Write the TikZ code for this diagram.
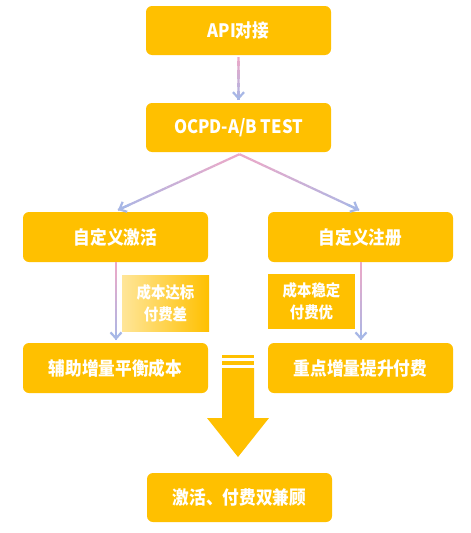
\documentclass[tikz,border=0pt]{standalone}
\usepackage{fontspec}
\setmainfont{Noto Sans CJK SC}
\newfontfamily\cjkn[FakeStretch=0.9]{Noto Sans CJK SC}
\usetikzlibrary{arrows.meta,calc}
\definecolor{ylw}{HTML}{FFC000}
\definecolor{cpink}{HTML}{EBA9C8}
\definecolor{cblue}{HTML}{A7B7E6}
\tikzset{
  box/.style={fill=ylw, rounded corners=6pt, minimum width=185pt, minimum height=50pt,
    text=white, font=\cjkn\bfseries\fontsize{18.5}{20}\selectfont, inner sep=0pt},
  lab/.style={fill=ylw, minimum width=87pt, minimum height=56pt, text=white,
    font=\cjkn\bfseries\fontsize{16}{22}\selectfont, align=center, inner sep=0pt},
  conn/.style={draw=cblue, line width=2.2pt, -{Straight Barb[length=6pt,width=11pt,line width=2.2pt]}},
  seg/.style={line width=2.2pt},
  bigarrow/.style={fill=ylw, draw=none}
}
\newcommand{\gradline}[2]{%
  \foreach \i in {0,...,9}{
    \pgfmathtruncatemacro{\pct}{100-\i*10}
    \draw[seg, draw=cpink!\pct!cblue] ($(#1)!\i/10!(#2)$) -- ($(#1)!{(\i+1)/10}!(#2)$);
  }
  \draw[conn] ($(#1)!0.9!(#2)$) -- (#2);
}
\begin{document}
\begin{tikzpicture}[x=1pt,y=-1pt]
\useasboundingbox[fill=white] (0,0) rectangle (471,533);
\node[box, minimum height=49pt] (api) at (238.5,30.5) {API对接};
\node[box, minimum height=49pt] (ocpd) at (238.5,127.5) {OCPD-A/B TEST};
\node[box] (actL) at (115.5,237) {自定义激活};
\node[box] (regR) at (360.5,237) {自定义注册};
\node[lab, left color=ylw!40!white, right color=ylw] (labL) at (165.5,303) {成本达标\\付费差};
\node[lab, minimum height=55pt] (labR) at (311.5,301.5) {成本稳定\\付费优};
\node[box] (auxL) at (115.5,368) {辅助增量平衡成本};
\node[box] (keyR) at (360.5,368) {重点增量提升付费};
\node[box, minimum height=49pt] (both) at (239.5,497.5) {激活、付费双兼顾};

% connectors
\coordinate (a1) at ($(api.south)+(0,2)$);
\coordinate (a2) at ($(ocpd.north)+(0,-3)$);
\gradline{a1}{a2}
\coordinate (b0) at ($(ocpd.south)+(1,2)$);
\coordinate (bL) at (118,210);
\coordinate (bR) at (359,210);
\gradline{b0}{bL}
\gradline{b0}{bR}
\coordinate (cL1) at (116,262);
\coordinate (cL2) at (116,340);
\gradline{cL1}{cL2}
\coordinate (cR1) at (361,262);
\coordinate (cR2) at (361,340);
\gradline{cR1}{cR2}

% big arrow
\fill[bigarrow] (222,355) rectangle (254,357.5);
\fill[bigarrow] (222,361) rectangle (254,365);
\fill[bigarrow] (222,368) -- (254,368) -- (254,418) -- (269,418) -- (238,457) -- (207,418) -- (222,418) -- cycle;
\end{tikzpicture}
\end{document}
